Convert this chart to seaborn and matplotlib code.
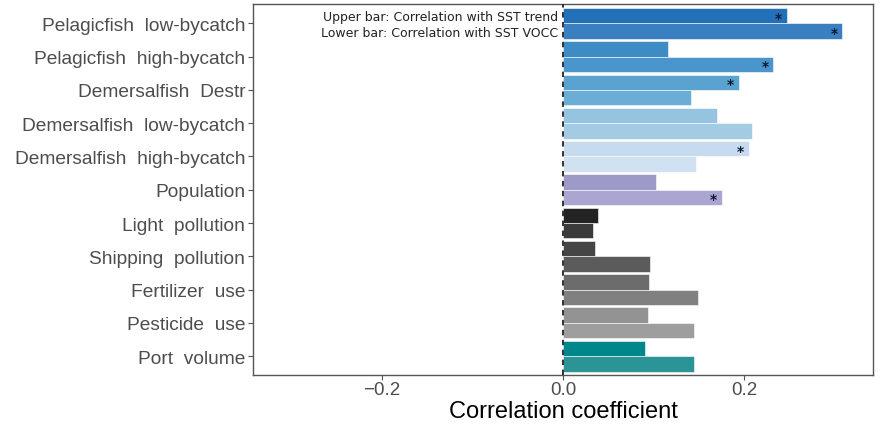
import matplotlib
matplotlib.use("Agg")
import matplotlib.pyplot as plt
import seaborn as sns
import pandas as pd

categories = ["Pelagicfish  low-bycatch", "Pelagicfish  high-bycatch", "Demersalfish  Destr",
              "Demersalfish  low-bycatch", "Demersalfish  high-bycatch", "Population",
              "Light  pollution", "Shipping  pollution", "Fertilizer  use", "Pesticide  use",
              "Port  volume"]
series = ["SST trend", "SST VOCC"]
trend_values = [0.247, 0.116, 0.194, 0.170, 0.205, 0.102, 0.038, 0.035, 0.095, 0.094, 0.090]
vocc_values = [0.308, 0.232, 0.141, 0.208, 0.147, 0.175, 0.033, 0.096, 0.149, 0.145, 0.144]
trend_signif = [True, False, True, False, True, False, False, False, False, False, False]
vocc_signif = [True, True, False, False, False, True, False, False, False, False, False]
trend_colors = ["#2271b8", "#3d8cc4", "#5aa2cf", "#94c4df", "#c6dbef", "#9e9ac8",
                "#232323", "#454545", "#6c6c6c", "#939393", "#00878b"]
vocc_colors = ["#3a7fc0", "#4a95cb", "#6aaed6", "#a3cce4", "#d0e1f2", "#aba6d1",
               "#3b3b3b", "#5b5b5b", "#808080", "#9e9e9e", "#2b9496"]

df = pd.DataFrame({
    "category": categories * 2,
    "series": [series[0]] * len(categories) + [series[1]] * len(categories),
    "value": trend_values + vocc_values,
})

sns.set_theme(style="white")
plt.rcParams["font.family"] = ["Liberation Sans", "DejaVu Sans"]

fig = plt.figure(figsize=(8.84, 4.31), dpi=100)
ax = fig.add_axes([0.286, 0.1276, 0.702, 0.8608])

sns.barplot(data=df, y="category", x="value", hue="series", order=categories,
            hue_order=series, orient="h", width=0.93, dodge=True, legend=False,
            errorbar=None, ax=ax, linewidth=0)

for cont, cols, sig in zip(ax.containers, [trend_colors, vocc_colors], [trend_signif, vocc_signif]):
    for bar, c, s in zip(cont, cols, sig):
        bar.set_facecolor(c)
        bar.set_edgecolor("white")
        bar.set_linewidth(0.4)
        if s:
            x = bar.get_x() + bar.get_width()
            y = bar.get_y() + bar.get_height() / 2
            ax.text(x - 0.009, y + 0.06, "*", ha="center", va="center",
                    fontsize=10, fontweight="bold", color="#0b1a33",
                    family="DejaVu Sans")

ax.axvline(0, color="#222222", linestyle=(0, (3, 2.5)), linewidth=1.3, zorder=5)

ax.set_xlim(-0.3425, 0.3425)
ax.set_ylim(10.57, -0.585)
ax.set_xticks([-0.2, 0.0, 0.2])
ax.set_xticklabels(["\u22120.2", "0.0", "0.2"])
ax.tick_params(axis="both", which="both", length=3.5, width=0.8, color="#555555",
               labelsize=13.5, labelcolor="#4d4d4d", pad=2, bottom=True, left=True)
ax.tick_params(axis="y", labelsize=13.8)
ax.tick_params(axis="x", pad=1)
ax.set_xlabel("Correlation coefficient", fontsize=17, color="black", labelpad=1)
ax.set_ylabel("")
for sp in ax.spines.values():
    sp.set_color("#555555")
    sp.set_linewidth(1.0)

ax.text(-0.005, -0.22, "Upper bar: Correlation with SST trend", ha="right", va="center",
        fontsize=9, color="#222222", family="DejaVu Sans")
ax.text(-0.005, 0.26, "Lower bar: Correlation with SST VOCC", ha="right", va="center",
        fontsize=9, color="#222222", family="DejaVu Sans")

fig.savefig("out.png", dpi=100)
